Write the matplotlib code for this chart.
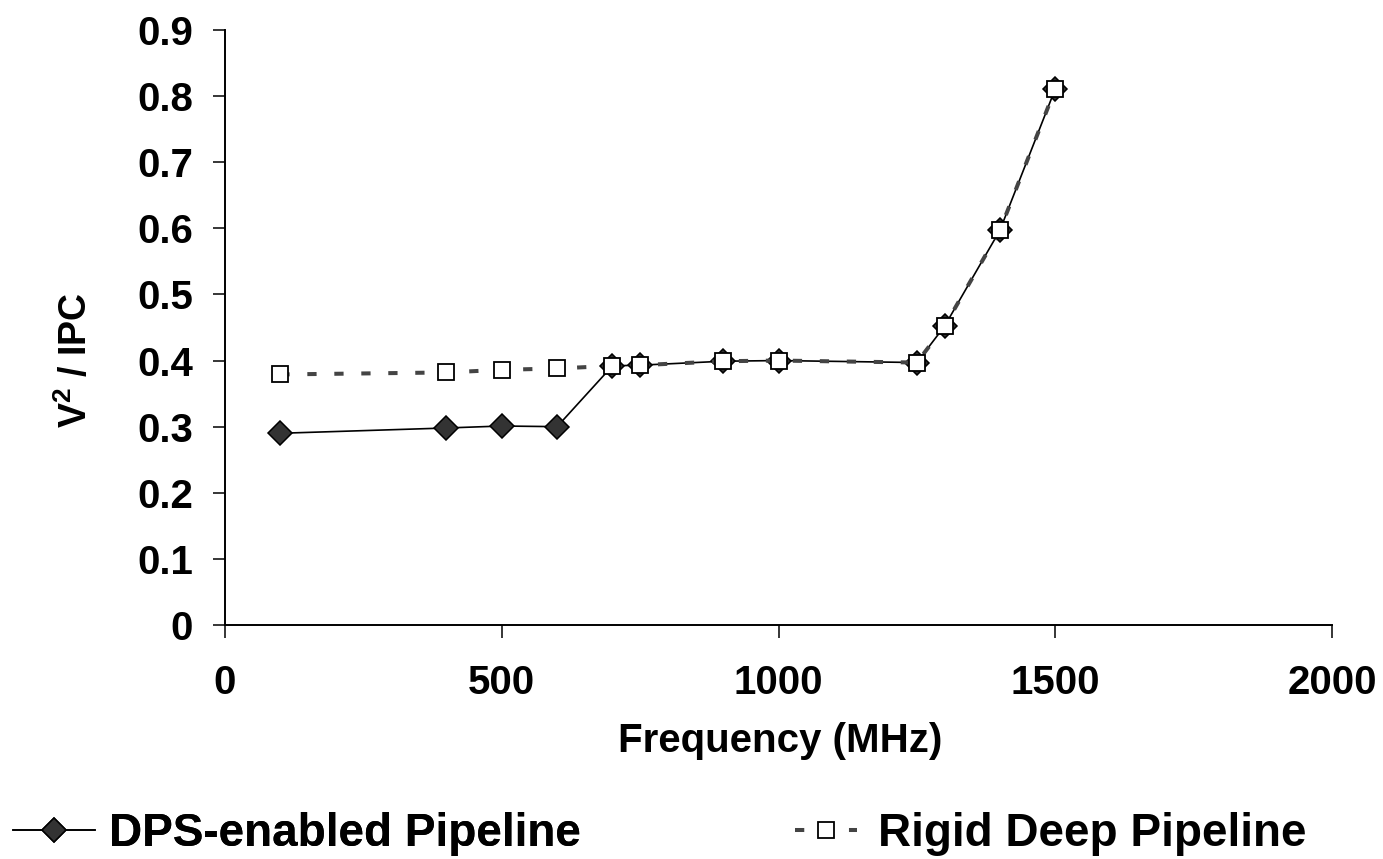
import numpy as np
import matplotlib
matplotlib.use("Agg")
import matplotlib.pyplot as plt

# values
freq_dps = [100, 400, 500, 600, 700, 750, 900, 1000, 1250, 1300, 1400, 1500]
v2ipc_dps = [0.290, 0.298, 0.301, 0.300, 0.392, 0.393, 0.399, 0.400, 0.397, 0.452, 0.597, 0.811]

freq_rigid = [100, 400, 500, 600, 700, 750, 900, 1000, 1250, 1300, 1400, 1500]
v2ipc_rigid = [0.379, 0.382, 0.386, 0.388, 0.392, 0.393, 0.399, 0.400, 0.397, 0.452, 0.597, 0.811]

xticks = [0, 500, 1000, 1500, 2000]
yticks = [0, 0.1, 0.2, 0.3, 0.4, 0.5, 0.6, 0.7, 0.8, 0.9]

plt.rcParams['font.family'] = ['Liberation Sans', 'DejaVu Sans']
plt.rcParams['font.weight'] = 'bold'
plt.rcParams['mathtext.fontset'] = 'custom'
plt.rcParams['mathtext.rm'] = 'Liberation Sans:bold'
plt.rcParams['mathtext.bf'] = 'Liberation Sans:bold'

W, H = 1383, 859
fig = plt.figure(figsize=(W / 100, H / 100), dpi=100)
ax = fig.add_axes([225 / W, 1 - 625 / H, (1332 - 225) / W, (625 - 30) / H])

l1, = ax.plot(freq_dps, v2ipc_dps, '-', color='black', lw=1.2,
              marker='D', ms=12.3, mfc='#333333', mec='black', mew=1.1,
              label='DPS-enabled Pipeline', zorder=3)
l2, = ax.plot(freq_rigid, v2ipc_rigid, '--', color='#444444', lw=2.9, dashes=(2.3, 4.4),
              marker='s', ms=11, mfc='white', mec='black', mew=1.3,
              label='Rigid Deep Pipeline', zorder=4)

ax.set_xlim(0, 2000)
ax.set_ylim(0, 0.9)
ax.set_xticks(xticks)
ax.set_yticks(yticks)
ax.set_yticklabels(['0'] + ['%.1f' % v for v in yticks[1:]])
ax.tick_params(axis='both', direction='out', length=9, width=1.1, labelsize=29)
ax.tick_params(axis='y', pad=14)
ax.tick_params(axis='x', pad=19)
for s in ['top', 'right']:
    ax.spines[s].set_visible(False)
for s in ['left', 'bottom']:
    ax.spines[s].set_linewidth(1.4)

ax.set_xlabel('Frequency (MHz)', fontsize=29, fontweight='bold')
ax.xaxis.set_label_coords(780 / W, 1 - 741 / H, transform=fig.transFigure)
ax.set_ylabel(r'V$^{2}$ / IPC', fontsize=27, fontweight='bold')
ax.yaxis.set_label_coords(76 / W, 1 - 360 / H, transform=fig.transFigure)
ax.yaxis.label.set_va('center')
ax.xaxis.label.set_va('center')

ly = 1 - 834 / H
leg1 = fig.legend(handles=[l1], loc='center left', bbox_to_anchor=(13 / W, ly),
                  frameon=False, fontsize=33, borderpad=0, borderaxespad=0,
                  handlelength=1.79, handletextpad=0.3)
leg2 = fig.legend(handles=[l2], loc='center left', bbox_to_anchor=(795 / W, ly),
                  frameon=False, fontsize=33, borderpad=0, borderaxespad=0,
                  handlelength=1.35, handletextpad=0.45)
fig.add_artist(leg1)

fig.savefig('out.png', dpi=100)
